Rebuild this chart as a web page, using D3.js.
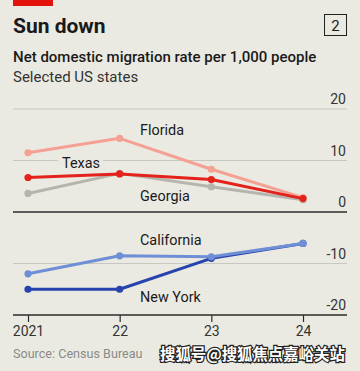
<!DOCTYPE html>
<html><head><meta charset="utf-8">
<script src="https://cdn.jsdelivr.net/npm/d3@7"></script>
<style>
html,body{margin:0;padding:0;background:#ebeae2;}
svg{display:block;font-family:Roboto,"Noto Sans",sans-serif;}
</style></head>
<body>
<svg id="c" width="360" height="371"></svg>
<script>
const years = ["2021", "22", "23", "24"];
const yTicks = [20, 10, 0, -10, -20];
const florida = [11.5, 14.3, 8.3, 2.8];
const texas = [6.7, 7.4, 6.3, 2.6];
const georgia = [3.6, 7.5, 4.9, 2.4];
const california = [-12.0, -8.5, -8.7, -6.1];
const newYork = [-15.0, -15.0, -9.0, -6.1];

const svg = d3.select("#c");
const bg = "#ebeae2";
svg.append("rect").attr("width",360).attr("height",371).attr("fill",bg);
svg.append("rect").attr("x",13).attr("y",0).attr("width",40).attr("height",6).attr("fill","#e3120b");

svg.append("text").attr("x",13).attr("y",33).attr("font-size",21).attr("font-weight",700)
  .attr("fill","#1a1a1a").text("Sun down");
svg.append("rect").attr("x",324.5).attr("y",14.5).attr("width",22).attr("height",21)
  .attr("fill","none").attr("stroke","#222").attr("stroke-width",1);
svg.append("text").attr("x",335.5).attr("y",30.5).attr("text-anchor","middle").attr("font-size",15)
  .attr("fill","#1a1a1a").text("2");
svg.append("text").attr("x",13).attr("y",62).attr("font-size",15).attr("font-weight",500)
  .attr("fill","#1a1a1a").text("Net domestic migration rate per 1,000 people");
svg.append("text").attr("x",13).attr("y",82).attr("font-size",15)
  .attr("fill","#333").text("Selected US states");

const x = d3.scalePoint().domain(years).range([28, 303]);
const y = d3.scaleLinear().domain([-20, 20]).range([315, 109]);

// gridlines
yTicks.forEach(v => {
  const dark = (v === 0 || v === -20);
  svg.append("line").attr("x1",13).attr("x2",347).attr("y1",y(v)).attr("y2",y(v))
    .attr("stroke", dark ? "#2b2b2b" : "#c9c8c0").attr("stroke-width", dark ? 1.3 : 1);
  svg.append("text").attr("x",346).attr("y",y(v)-5).attr("text-anchor","end")
    .attr("font-size",14).attr("fill","#333").text(v);
});

// x axis ticks
const xAxis = d3.axisBottom(x).tickSize(7).tickPadding(4);
const gx = svg.append("g").attr("transform",`translate(0,${y(-20)})`).call(xAxis);
gx.select(".domain").remove();
gx.selectAll("line").attr("stroke","#2b2b2b").attr("stroke-width",1.2);
gx.selectAll("text").attr("font-size",14).attr("fill","#333").attr("font-family","Roboto,sans-serif");

const series = [
  {name:"Georgia", vals:georgia, color:"#b5b5ad"},
  {name:"Florida", vals:florida, color:"#f4a093"},
  {name:"Texas", vals:texas, color:"#e3221b"},
  {name:"New York", vals:newYork, color:"#2743ad"},
  {name:"California", vals:california, color:"#6e8fd6"}
];

const line = d3.line().x((d,i)=>x(years[i])).y(d=>y(d));
series.forEach(s => {
  const g = svg.append("g");
  g.append("path").attr("d", line(s.vals)).attr("fill","none").attr("stroke",s.color)
    .attr("stroke-width",3).attr("stroke-linejoin","round");
  g.selectAll("circle").data(s.vals).join("circle")
    .attr("cx",(d,i)=>x(years[i])).attr("cy",d=>y(d)).attr("r",3.6).attr("fill",s.color);
});

// labels
const lbl = (t, lx, ly, box) => {
  if (box) svg.insert("rect", "g").attr("x",lx-4).attr("y",ly-13).attr("width",t.length*7.8+6).attr("height",16).attr("fill",bg);
  svg.append("text").attr("x",lx).attr("y",ly).attr("font-size",14.4).attr("fill","#1a1a1a").text(t);
};
lbl("Florida", 140, 135);
lbl("Texas", 62, 168, true);
lbl("Georgia", 140, 201);
lbl("California", 140, 245);
lbl("New York", 140, 302);

svg.append("text").attr("x",13).attr("y",358).attr("font-size",12.6).attr("fill","#8a8a85")
  .text("Source: Census Bureau");

svg.append("text").attr("x",160).attr("y",360).attr("font-size",15.4).attr("font-weight",700)
  .attr("font-family","'Noto Sans CJK SC',sans-serif")
  .attr("fill","#fff").attr("stroke","#222").attr("stroke-width",2.5).attr("paint-order","stroke")
  .text("搜狐号@搜狐焦点嘉峪关站");
</script>
</body></html>
